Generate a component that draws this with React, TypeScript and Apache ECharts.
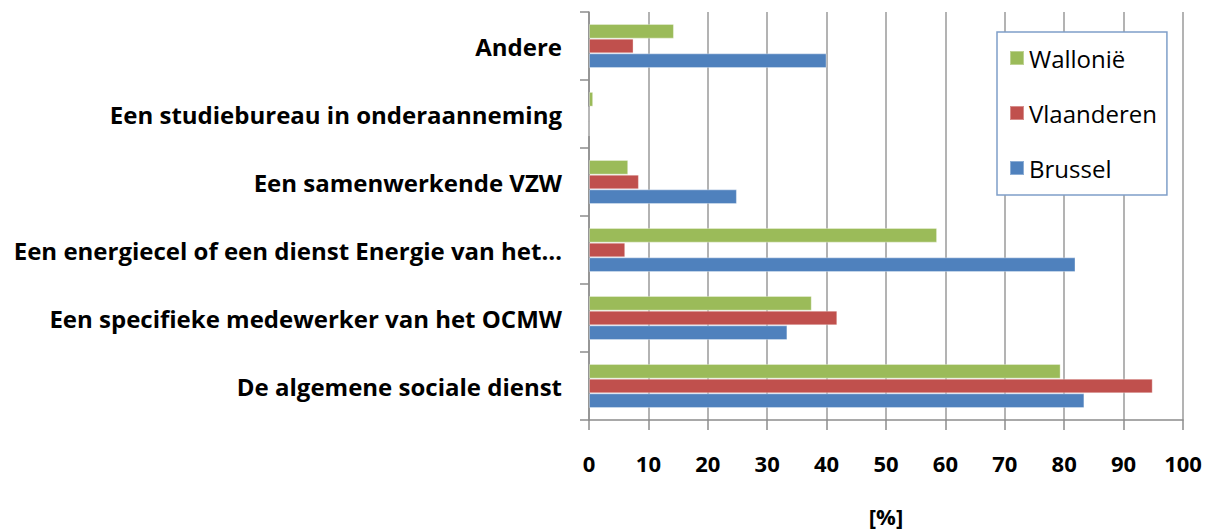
import React, { useEffect, useRef } from "react";
import * as echarts from "echarts";

const categories = [
  "De algemene sociale dienst",
  "Een specifieke medewerker van het OCMW",
  "Een energiecel of een dienst Energie van het…",
  "Een samenwerkende VZW",
  "Een studiebureau in onderaanneming",
  "Andere",
];
const brussel = [83.4, 33.4, 81.9, 24.9, 0, 40.0];
const vlaanderen = [94.9, 41.8, 6.1, 8.4, 0, 7.5];
const wallonie = [79.4, 37.5, 58.6, 6.6, 0.7, 14.3];
const xTicks = { min: 0, max: 100, interval: 10 };

const FONT = "Open Sans";

export default function App() {
  const ref = useRef<HTMLDivElement>(null);
  useEffect(() => {
    if (!ref.current) return;
    const chart = echarts.init(ref.current, undefined, { renderer: "svg" });
    const bar = (name: string, data: number[], color: string) => ({
      name,
      type: "bar",
      data,
      barGap: "0%",
      barCategoryGap: "35%",
      itemStyle: { color, borderColor: "rgba(255,255,255,0.35)", borderWidth: 1 },
    });
    chart.setOption({
      animation: false,
      backgroundColor: "#ffffff",
      textStyle: { fontFamily: FONT },
      grid: { left: 589, right: 29, top: 12, bottom: 110, containLabel: false, outerBoundsMode: "none" },
      legend: {
        orient: "vertical",
        left: 997,
        top: 32,
        data: ["Wallonië", "Vlaanderen", "Brussel"],
        itemWidth: 14,
        itemHeight: 14,
        itemGap: 25,
        padding: [11, 10, 12, 12],
        borderColor: "#7f9fc9",
        borderWidth: 1.5,
        backgroundColor: "#ffffff",
        icon: "rect",
        textStyle: { fontFamily: FONT, fontSize: 24, color: "#000", lineHeight: 30, padding: [0, 0, 0, 0] },
      },
      xAxis: {
        type: "value",
        min: xTicks.min,
        max: xTicks.max,
        interval: xTicks.interval,
        name: "[%]",
        nameLocation: "middle",
        nameGap: 85,
        nameTextStyle: { fontFamily: FONT, fontSize: 22, fontWeight: "bold", color: "#000", verticalAlign: "top" },
        axisLine: { show: true, lineStyle: { color: "#8c8c8c", width: 1.5 } },
        axisTick: { show: true, length: 10, lineStyle: { color: "#8c8c8c", width: 1.5 } },
        splitLine: { show: true, lineStyle: { color: "#9a9a9a", width: 1.5 } },
        axisLabel: { margin: 32, fontFamily: FONT, fontSize: 22, fontWeight: "bold", color: "#000" },
      },
      yAxis: {
        type: "category",
        data: categories,
        axisLine: { show: true, lineStyle: { color: "#8c8c8c", width: 1.5 } },
        axisTick: { show: true, length: 9, lineStyle: { color: "#8c8c8c", width: 1.5 } },
        axisLabel: { margin: 27, fontFamily: FONT, fontSize: 24, fontWeight: "bold", color: "#000" },
      },
      series: [
        bar("Wallonië", wallonie, "#9bbb59"),
        bar("Vlaanderen", vlaanderen, "#c0504d"),
        bar("Brussel", brussel, "#4f81bd"),
      ],
    });
    return () => chart.dispose();
  }, []);
  return <div ref={ref} style={{ width: 1212, height: 530, position: "absolute", left: 0, top: 0 }} />;
}
